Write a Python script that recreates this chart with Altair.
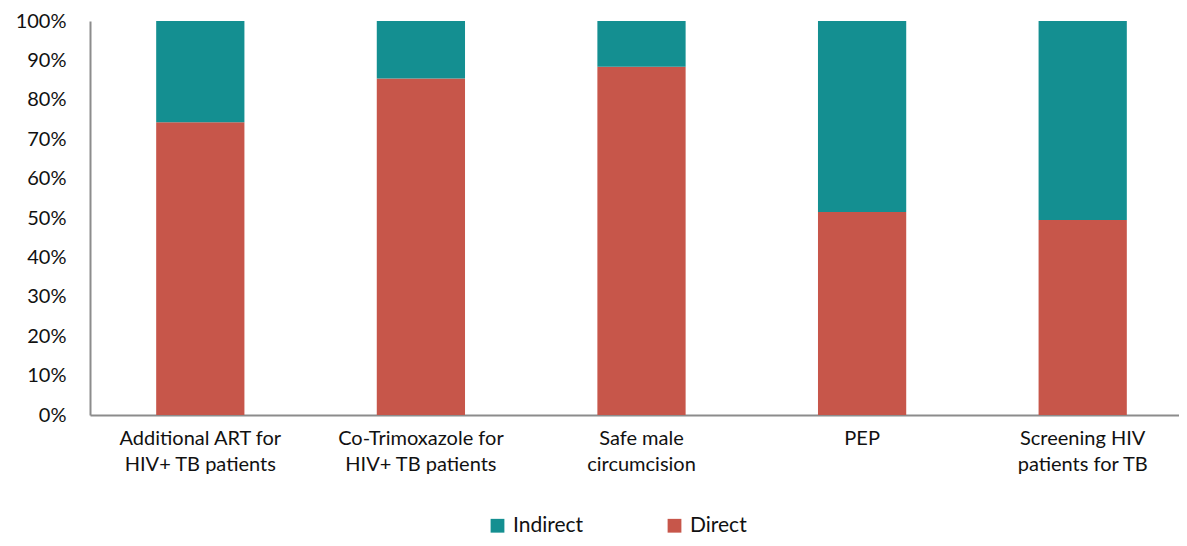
import altair as alt
import pandas as pd

categories = [
    "Additional ART for HIV+ TB patients",
    "Co-Trimoxazole for HIV+ TB patients",
    "Safe male circumcision",
    "PEP",
    "Screening HIV patients for TB",
]
label_lines = [
    ["Additional ART for", "HIV+ TB patients"],
    ["Co-Trimoxazole for", "HIV+ TB patients"],
    ["Safe male", "circumcision"],
    ["PEP"],
    ["Screening HIV", "patients for TB"],
]
direct = [74.3, 85.4, 88.4, 51.5, 49.5]
indirect = [100 - d for d in direct]
series = ["Indirect", "Direct"]
colors = ["#148F91", "#C7564A"]

rows = []
for c, d, i in zip(categories, direct, indirect):
    rows.append({"cat": c, "series": "Direct", "value": d / 100, "ord": 0})
    rows.append({"cat": c, "series": "Indirect", "value": i / 100, "ord": 1})
df = pd.DataFrame(rows)

# label expression from the lines
expr = "''"
for c, lines in zip(reversed(categories), reversed(label_lines)):
    arr = "[" + ",".join("'" + l + "'" for l in lines) + "]"
    expr = f"datum.value === '{c}' ? {arr} : ({expr})"

FONT = "Lato"

chart = alt.Chart(df).mark_bar().encode(
    x=alt.X(
        "cat:N",
        sort=categories,
        title=None,
        scale=alt.Scale(paddingInner=0.6, paddingOuter=0.3, range=[0, 1103]),
        axis=alt.Axis(
            labelAngle=0,
            labelExpr=expr,
            labelFontSize=20,
            labelFont=FONT,
            labelColor="#111111",
            labelPadding=13,
            labelLineHeight=26,
            labelBaseline="top",
            ticks=False,
            domainColor="#8c8c8c",
            domainWidth=2,
            labelLimit=300,
        ),
    ),
    y=alt.Y(
        "value:Q",
        stack="zero",
        title=None,
        scale=alt.Scale(domain=[0, 1]),
        axis=alt.Axis(
            format=".0%",
            values=[i / 10 for i in range(11)],
            labelFontSize=20,
            labelFont=FONT,
            labelColor="#111111",
            labelPadding=24,
            ticks=False,
            grid=False,
            domainColor="#8c8c8c",
            domainWidth=2,
        ),
    ),
    color=alt.Color(
        "series:N",
        scale=alt.Scale(domain=series, range=colors),
        legend=alt.Legend(
            title=None,
            orient="none",
            direction="horizontal",
            legendX=397,
            legendY=494,
            symbolType="square",
            symbolSize=190,
            symbolStrokeWidth=0,
            labelFontSize=21,
            labelFont=FONT,
            labelColor="#111111",
            labelOffset=5,
            columnPadding=80,
        ),
    ),
    order=alt.Order("ord:Q", sort="ascending"),
).properties(
    width=1089,
    height=394,
    padding={"left": 82, "top": 13, "right": 0, "bottom": 123},
    autosize=alt.AutoSizeParams(type="none"),
).configure_view(stroke=None)

chart.save("out.html", embed_options={"renderer": "svg", "actions": False})
